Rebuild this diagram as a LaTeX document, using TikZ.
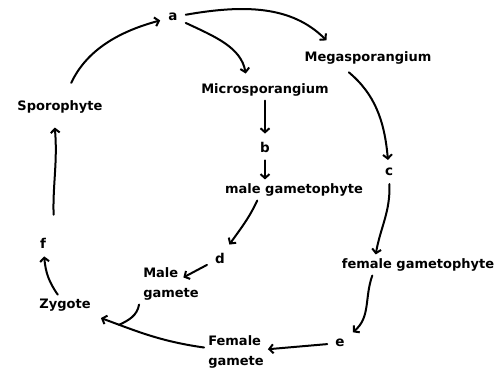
\documentclass[tikz,border=0pt]{standalone}
\usepackage{fontspec}
\setmainfont{DejaVu Sans}
\usetikzlibrary{arrows.meta}
\tikzset{
  stagename/.style={font=\bfseries\fontsize{13}{20}\selectfont, inner sep=4pt, align=left},
  stageletter/.style={font=\bfseries\fontsize{13.5}{15}\selectfont, inner sep=8pt},
  flow/.style={-{Straight Barb[length=4pt,width=9pt]}, line width=2pt, line cap=round},
}

\begin{document}
\begin{tikzpicture}[x=1pt,y=1pt]
  \useasboundingbox (0,0) rectangle (496,378);
  \node[stageletter] (a) at (173,361) {a};
  \node[stagename] (mega) at (368,320) {Megasporangium};
  \node[stagename] (micro) at (265,288) {Microsporangium};
  \node[stagename] (spor) at (60,271) {Sporophyte};
  \node[stageletter] (b) at (265,231) {b};
  \node[stageletter] (c) at (389,206) {c};
  \node[stagename] (malegph) at (294,188) {male gametophyte};
  \node[stagename] (femgph) at (418,113) {female gametophyte};
  \node[stageletter] (d) at (220,120) {d};
  \node[stagename] (malegam) at (171,94) {Male\\gamete};
  \node[stageletter] (f) at (43,135) {f};
  \node[stagename] (zyg) at (65,73) {Zygote};
  \node[stagename] (femgam) at (236,26) {Female\\gamete};
  \node[stageletter] (e) at (340,35) {e};

  \draw[flow, shorten <=15pt] (spor) to[out=65, in=195] (a);
  \draw[flow, shorten >=10pt] (a) to[out=10, in=135] (mega.163);
  \draw[flow, shorten >=6pt] (a) to[out=-25, in=100] (micro.150);
  \draw[flow] (micro) -- (b);
  \draw[flow] (b) -- (b |- malegph.north);
  \draw[flow, shorten <=6pt] (mega.204) to[out=-40, in=95] (c);
  \draw[flow] (c) to[out=-88, in=80] (femgph.166);
  \draw[flow] (malegph.196) to[out=-115, in=55] (d);
  \draw[flow, shorten >=14pt] (d) -- (malegam.center);
  \draw[flow] (femgph.193) to[out=-110, in=40] (e);
  \draw[flow] (e) -- (femgam);
  \draw[flow, shorten >=8pt] (femgam) to[out=172, in=-20] coordinate[pos=0.78] (fuse) (zyg);
  \draw[flow, -] (malegam.south west) to[out=-100, in=25] (fuse);
  \draw[flow] (zyg) to[out=125, in=-85] (f);
  \draw[flow, shorten <=15pt, shorten >=10pt] (f.north east) to[out=92, in=-85] (spor.-120);
\end{tikzpicture}
\end{document}
